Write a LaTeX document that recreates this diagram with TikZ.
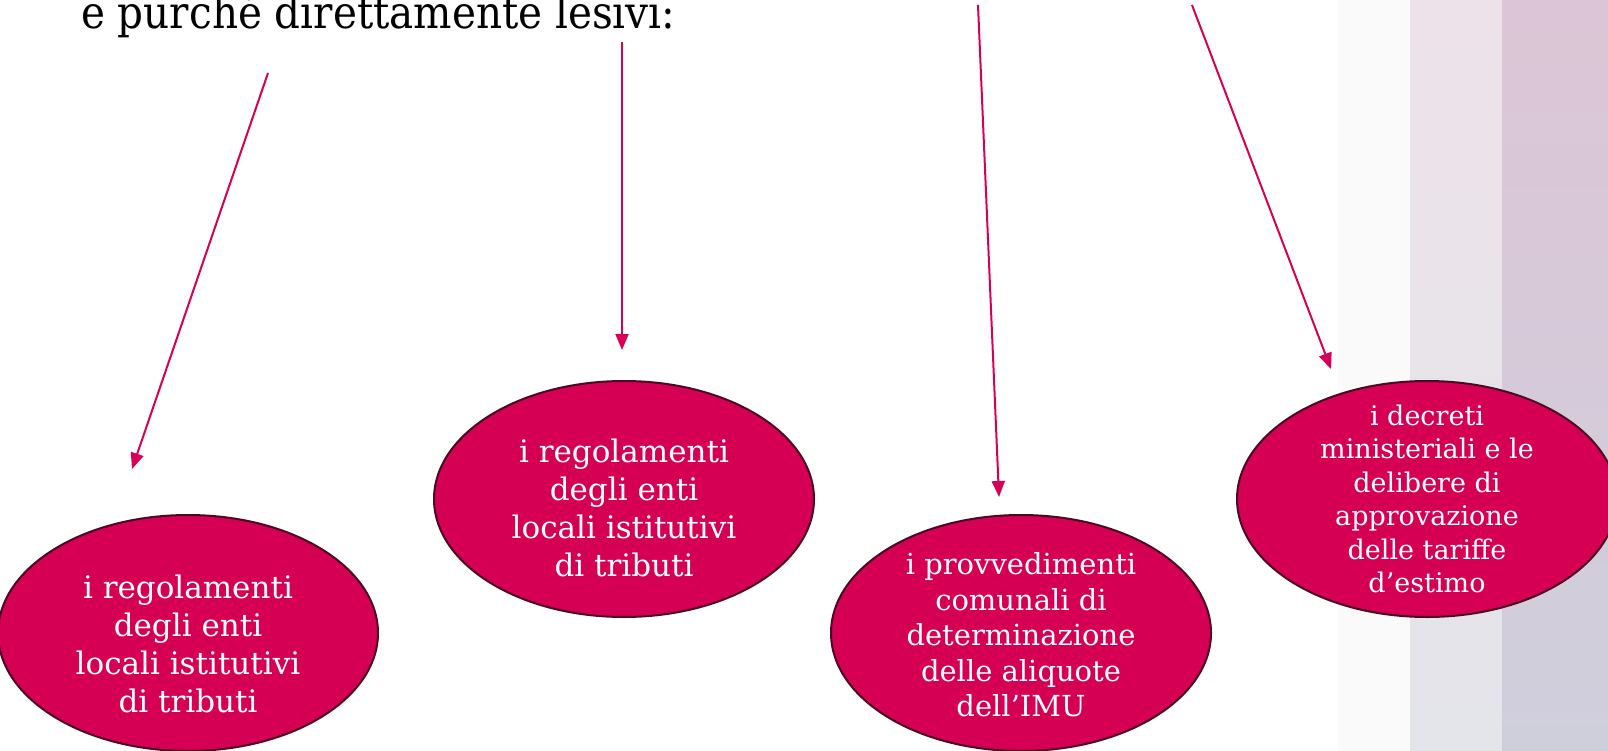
\documentclass[tikz,border=0pt]{standalone}
\usepackage{fontspec}
\setmainfont{DejaVu Serif}
\newfontfamily\headfont{DejaVu Serif Condensed}
\usetikzlibrary{shapes.geometric,arrows.meta}
\definecolor{boxfill}{RGB}{213,0,84}
\definecolor{boxline}{RGB}{75,8,32}
\definecolor{arrowcol}{RGB}{216,0,86}
\definecolor{stripeA}{RGB}{250,250,251}
\definecolor{stripeBtop}{RGB}{237,226,234}
\definecolor{stripeBbot}{RGB}{228,228,235}
\definecolor{stripeCtop}{RGB}{220,197,214}
\definecolor{stripeCbot}{RGB}{207,207,220}
\tikzset{
  oval/.style={ellipse, draw=boxline, line width=2pt, fill=boxfill,
    minimum width=380pt, minimum height=236pt, inner sep=0pt},
  ovaltext/.style={text=white, align=center, inner sep=0pt},
  pointer/.style={draw=arrowcol, line width=2pt,
    -{Triangle[length=16pt,width=13pt]}},
}
\begin{document}
\begin{tikzpicture}[x=1pt,y=-1pt]
\useasboundingbox (0,0) rectangle (1608,751);
\clip (0,0) rectangle (1608,751);
% background stripes
\fill[stripeA] (1338,0) rectangle (1410,751);
\shade[top color=stripeBtop, bottom color=stripeBbot] (1410,0) rectangle (1502,751);
\shade[top color=stripeCtop, bottom color=stripeCbot] (1502,0) rectangle (1608,751);
% heading
\node[anchor=base west, inner sep=0pt, font=\headfont\fontsize{45}{49}\selectfont] (head) at (81,29) {e purché direttamente lesivi:};
% arrow endpoints
\coordinate (s1) at (268,73);  \coordinate (t1) at (132,469);
\coordinate (s2) at (622,42);  \coordinate (t2) at (622,350);
\coordinate (s3) at (978,5);   \coordinate (t3) at (999,497);
\coordinate (s4) at (1192,5);  \coordinate (t4) at (1331,369);
\draw[pointer] (s1) -- (t1);
\draw[pointer] (s2) -- (t2);
\draw[pointer] (s3) -- (t3);
\draw[pointer] (s4) -- (t4);
% ellipses
\node[oval] (e1) at (188,633) {};
\node[oval] (e2) at (624,499) {};
\node[oval] (e3) at (1021,633) {};
\node[oval] (e4) at (1427,499) {};
\node[ovaltext, font=\fontsize{31}{38}\selectfont] (l1) at ([yshift=-11pt]e1.center)
  {i regolamenti\\degli enti\\locali istitutivi\\di tributi};
\node[ovaltext, font=\fontsize{31}{38}\selectfont] (l2) at ([yshift=-9pt]e2.center)
  {i regolamenti\\degli enti\\locali istitutivi\\di tributi};
\node[ovaltext, font=\fontsize{29}{35.5}\selectfont] (l3) at ([yshift=-2pt]e3.center)
  {i provvedimenti\\comunali di\\determinazione\\delle aliquote\\dell’IMU};
\node[ovaltext, font=\fontsize{27}{33.5}\selectfont] (l4) at ([yshift=0pt]e4.center)
  {i decreti\\ministeriali e le\\delibere di\\approvazione\\delle tariffe\\d’estimo};
\end{tikzpicture}
\end{document}
